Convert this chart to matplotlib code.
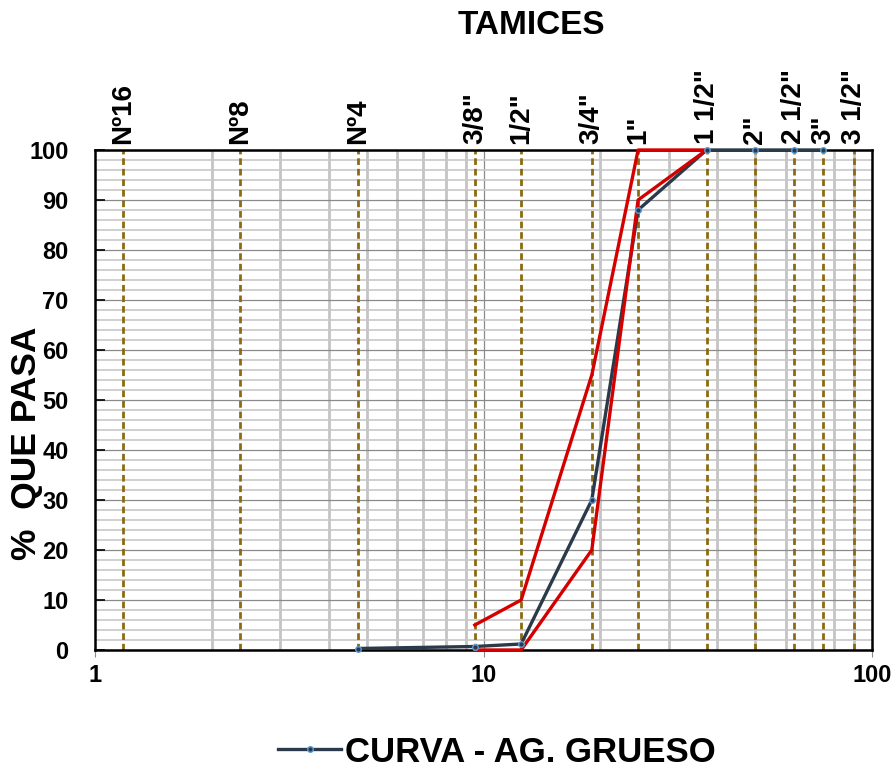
import matplotlib
matplotlib.use("Agg")
import matplotlib.pyplot as plt
import matplotlib.transforms as mtransforms
from matplotlib.lines import Line2D
import numpy as np

plt.rcParams['font.family'] = ['Liberation Sans', 'DejaVu Sans']
plt.rcParams['font.weight'] = 'bold'

# Sieve sizes (mm) and labels
sieve_labels = ['Nº16', 'Nº8', 'Nº4', '3/8"', '1/2"', '3/4"', '1"', '1 1/2"', '2"', '2 1/2"', '3"', '3 1/2"']
sieve_sizes = [1.18, 2.36, 4.75, 9.5, 12.5, 19.0, 25.0, 37.5, 50.0, 63.0, 75.0, 90.0]

# Granulometric curve
curve_sizes = [4.75, 9.5, 12.5, 19.0, 25.0, 37.5, 50.0, 63.0, 75.0]
curve_pass = [0.3, 0.7, 1.2, 30.0, 88.0, 100.0, 100.0, 100.0, 100.0]

# Limits (HUSO)
limit_sizes = [9.5, 12.5, 19.0, 25.0, 37.5]
upper_pass = [5.0, 10.0, 55.0, 100.0, 100.0]
lower_pass = [0.0, 0.0, 20.0, 90.0, 100.0]

x_ticks = [1, 10, 100]
x_ticklabels = ['1', '10', '100']
y_ticks = [0, 10, 20, 30, 40, 50, 60, 70, 80, 90, 100]

fig = plt.figure(figsize=(8.94, 7.72), dpi=100)
ax = fig.add_axes([95/894, 1-650/772, (872-95)/894, (650-150)/772])

ax.set_xscale('log')
ax.set_xlim(1, 100)
ax.set_ylim(0, 100)

# grid
ax.set_xticks(x_ticks)
ax.set_xticklabels(x_ticklabels)
ax.set_xticks([m*d for d in (1, 10) for m in range(2, 10)], minor=True)
ax.set_yticks(y_ticks)
ax.set_yticks(np.arange(0, 101, 2), minor=True)
ax.xaxis.set_minor_formatter(matplotlib.ticker.NullFormatter())
ax.grid(which='minor', axis='x', color='#c4c4c4', lw=2.0, zorder=0)
ax.grid(which='minor', axis='y', color='#c8c8c8', lw=1.2, zorder=0)
ax.grid(which='major', axis='both', color='#8a8a8a', lw=0.9, zorder=0)
ax.set_axisbelow(True)

ax.tick_params(axis='y', which='major', direction='in', length=7, width=1.2, color='black',
               labelsize=17, pad=19)
ax.tick_params(axis='y', which='minor', length=0)
ax.tick_params(axis='x', which='major', direction='out', length=5, width=0.8, color='#888888',
               labelsize=17, pad=5)
ax.tick_params(axis='x', which='minor', length=0)
for lab in ax.get_xticklabels() + ax.get_yticklabels():
    lab.set_fontweight('bold')

for s in ax.spines.values():
    s.set_color('black')
    s.set_linewidth(1.8)

# sieve dashed lines and top labels
trans = mtransforms.blended_transform_factory(ax.transData, ax.transAxes)
for lab, sz in zip(sieve_labels, sieve_sizes):
    ax.axvline(sz, color='#8c6a12', lw=2.0, dashes=(2.4, 1.4), zorder=2)
    ax.text(sz, 1.012, lab, transform=trans, rotation=90, ha='center', va='bottom',
            fontsize=20, fontweight='bold')

# curves
ax.plot(curve_sizes, curve_pass, color='#2b3a4a', lw=2.4, zorder=3, clip_on=False)
ax.plot(limit_sizes, upper_pass, color='#d40000', lw=2.4, zorder=4, clip_on=False)
ax.plot(limit_sizes, lower_pass, color='#d40000', lw=2.4, zorder=4, clip_on=False)
ax.plot(curve_sizes, curve_pass, ls='none', marker='o', ms=4, mfc='#2b3a4a',
        mec='#5b9bd5', mew=1.0, zorder=5, clip_on=False)

# titles
fig.text(531/894, 1-26/772, 'TAMICES', ha='center', va='center', fontsize=24, fontweight='bold')
fig.text(27/894, 1-443/772, '%  QUE PASA', ha='center', va='center', rotation=90,
         fontsize=25.5, fontweight='bold')

handle = Line2D([], [], color='#2b3a4a', lw=2.4, marker='o', ms=4, mfc='#2b3a4a', mec='#5b9bd5')
fig.legend([handle], ['CURVA - AG. GRUESO'], loc='center', bbox_to_anchor=(497/894, 1-752/772),
           frameon=False, prop={'size': 25, 'weight': 'bold'}, handlelength=1.8,
           handletextpad=0.12, borderpad=0)

fig.savefig('out.png', dpi=100)
